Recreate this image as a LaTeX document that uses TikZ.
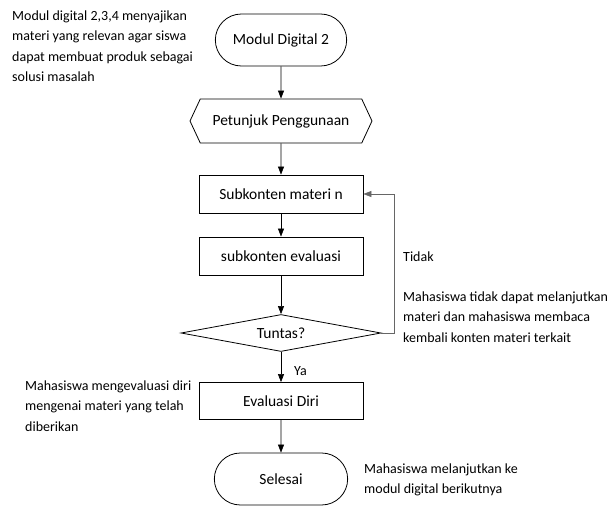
\documentclass[tikz,border=0pt]{standalone}
\usepackage{fontspec}
\setmainfont{Carlito}
\usetikzlibrary{shapes.geometric,shapes.misc,shapes.symbols,arrows.meta}

\begin{document}
\begin{tikzpicture}[x=1pt,y=-1pt,
  terminal/.style={rounded rectangle,draw,line width=0.8pt,minimum width=138pt,minimum height=52pt,font=\fontsize{15.5}{18}\selectfont},
  petunjuk/.style={signal,signal to=west and east,signal pointer angle=130,draw,line width=0.8pt,minimum width=182pt,minimum height=44pt,inner sep=0pt,font=\fontsize{15.5}{18}\selectfont},
  prosesbox/.style={rectangle,draw,line width=0.8pt,minimum width=164pt,minimum height=38pt,font=\fontsize{15.5}{18}\selectfont},
  keputusan/.style={diamond,draw,line width=0.8pt,aspect=5.4,minimum width=200pt,minimum height=37pt,inner sep=1pt,font=\fontsize{15.5}{18}\selectfont},
  catatan/.style={inner sep=0pt,align=left,font=\fontsize{14}{20.5}\selectfont},
  panah/.style={-{Triangle[length=8pt,width=6pt]},line width=0.6pt},
  balik/.style={panah,draw=black!60}]
  \useasboundingbox (0,0) rectangle (608,506);
  \node[terminal] (mulai) at (281,40) {Modul Digital 2};
  \node[petunjuk] (petunjuk) at (281,121) {Petunjuk Penggunaan};
  \node[prosesbox] (materi) at (281,194) {Subkonten materi n};
  \node[prosesbox] (evaluasi) at (281,256) {subkonten evaluasi};
  \node[keputusan] (tuntas) at (281,333) {Tuntas?};
  \node[prosesbox,minimum height=37pt] (diri) at (281,401) {Evaluasi Diri};
  \node[terminal,minimum width=140pt] (selesai) at (281,479) {Selesai};

  \draw[panah] (mulai) -- (petunjuk);
  \draw[panah] (petunjuk) -- (materi);
  \draw[panah] (materi) -- (evaluasi);
  \draw[panah] (evaluasi) -- (tuntas);
  \draw[panah] (tuntas) -- (diri);
  \draw[panah] (diri) -- (selesai);
  \draw[balik] (tuntas.east) -- ++(13,0) |- (materi.east);

  \node[catatan,anchor=base west] (ya) at (294,375) {Ya};
  \node[catatan,anchor=base west] (tidak) at (403,261) {Tidak};
  \node[catatan,anchor=north west] (ketmodul) at (12,10.5) {Modul digital 2,3,4 menyajikan\\materi yang relevan agar siswa\\dapat membuat produk sebagai\\solusi masalah};
  \node[catatan,anchor=north west] (ketulang) at (403,291.5) {Mahasiswa tidak dapat melanjutkan\\materi dan mahasiswa membaca\\kembali konten materi terkait};
  \node[catatan,anchor=north west] (ketdiri) at (25,380.5) {Mahasiswa mengevaluasi diri\\mengenai materi yang telah\\diberikan};
  \node[catatan,anchor=north west] (ketselesai) at (364,463.5) {Mahasiswa melanjutkan ke\\modul digital berikutnya};
\end{tikzpicture}
\end{document}
